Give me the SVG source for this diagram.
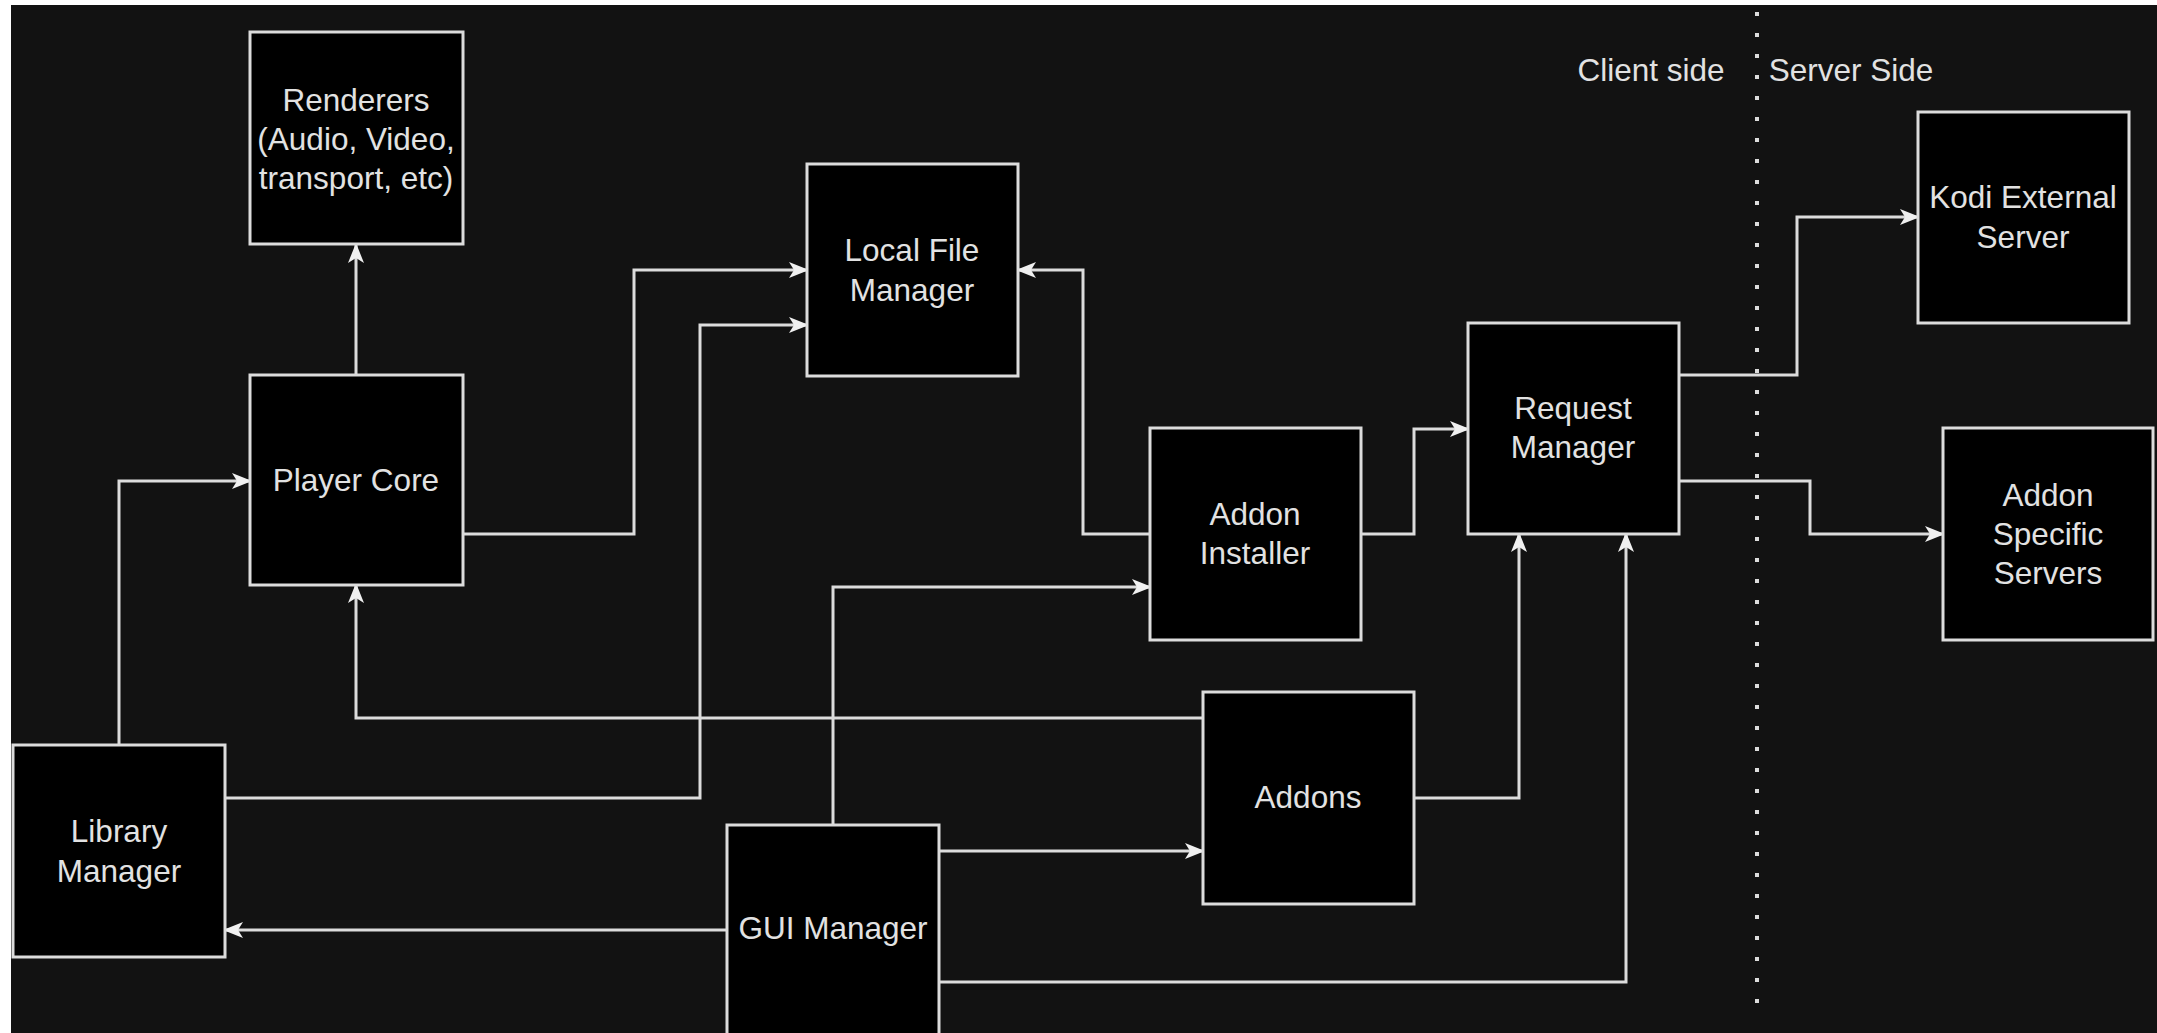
<svg xmlns="http://www.w3.org/2000/svg" width="2157" height="1033" viewBox="0 0 2157 1033">
<style>
.node rect{fill:#000;stroke:#dcdcdc;stroke-width:3}
.node text,.lbl{font-family:"Liberation Sans",Arial,sans-serif;font-size:31.5px;fill:#e2e2e2;text-anchor:middle;dominant-baseline:central}
.edge{fill:none;stroke:#dcdcdc;stroke-width:3}
</style>
<defs>
<marker id="arr" markerUnits="userSpaceOnUse" markerWidth="22" markerHeight="18" refX="18" refY="9" orient="auto">
<path d="M0,1 L20,9 L0,17 L5,9 Z" fill="#f0f0f0"/>
</marker>
</defs>
<rect x="0" y="0" width="2157" height="1033" fill="#ffffff"/>
<rect x="11" y="5" width="2146" height="1028" fill="#121212"/>
<g id="divider">
<line x1="1757" y1="12" x2="1757" y2="1012" stroke="#dcdcdc" stroke-width="4" stroke-dasharray="4 17"/>
<text class="lbl" x="1651" y="70">Client side</text>
<text class="lbl" x="1851" y="70">Server Side</text>
</g>
<g id="connectors">
<path class="edge" d="M356,375 V245" marker-end="url(#arr)"/>
<path class="edge" d="M119,745 V481 H250" marker-end="url(#arr)"/>
<path class="edge" d="M463,534 H634 V270 H807" marker-end="url(#arr)"/>
<path class="edge" d="M225,798 H700 V325 H807" marker-end="url(#arr)"/>
<path class="edge" d="M1150,534 H1083 V270 H1018" marker-end="url(#arr)"/>
<path class="edge" d="M1361,534 H1414 V429 H1468" marker-end="url(#arr)"/>
<path class="edge" d="M1203,718 H356 V585" marker-end="url(#arr)"/>
<path class="edge" d="M833,825 V587 H1150" marker-end="url(#arr)"/>
<path class="edge" d="M939,851 H1203" marker-end="url(#arr)"/>
<path class="edge" d="M727,930 H225" marker-end="url(#arr)"/>
<path class="edge" d="M939,982 H1626 V534" marker-end="url(#arr)"/>
<path class="edge" d="M1414,798 H1519 V534" marker-end="url(#arr)"/>
<path class="edge" d="M1679,375 H1797 V217 H1918" marker-end="url(#arr)"/>
<path class="edge" d="M1679,481 H1810 V534 H1943" marker-end="url(#arr)"/>
</g>
<g id="renderers" class="node"><rect x="250" y="32" width="213" height="212"/>
<text x="356" y="100">Renderers</text><text x="356" y="139">(Audio, Video,</text><text x="356" y="178">transport, etc)</text></g>
<g id="player-core" class="node"><rect x="250" y="375" width="213" height="210"/>
<text x="356" y="480">Player Core</text></g>
<g id="local-file-manager" class="node"><rect x="807" y="164" width="211" height="212"/>
<text x="912" y="250">Local File</text><text x="912" y="290">Manager</text></g>
<g id="addon-installer" class="node"><rect x="1150" y="428" width="211" height="212"/>
<text x="1255" y="514">Addon</text><text x="1255" y="553">Installer</text></g>
<g id="request-manager" class="node"><rect x="1468" y="323" width="211" height="211"/>
<text x="1573" y="408">Request</text><text x="1573" y="447">Manager</text></g>
<g id="kodi-external-server" class="node"><rect x="1918" y="112" width="211" height="211"/>
<text x="2023" y="197">Kodi External</text><text x="2023" y="237">Server</text></g>
<g id="addon-specific-servers" class="node"><rect x="1943" y="428" width="210" height="212"/>
<text x="2048" y="495">Addon</text><text x="2048" y="534">Specific</text><text x="2048" y="573">Servers</text></g>
<g id="addons" class="node"><rect x="1203" y="692" width="211" height="212"/>
<text x="1308" y="797">Addons</text></g>
<g id="library-manager" class="node"><rect x="13" y="745" width="212" height="212"/>
<text x="119" y="831">Library</text><text x="119" y="871">Manager</text></g>
<g id="gui-manager" class="node"><rect x="727" y="825" width="212" height="230"/>
<text x="833" y="928">GUI Manager</text></g>
</svg>
